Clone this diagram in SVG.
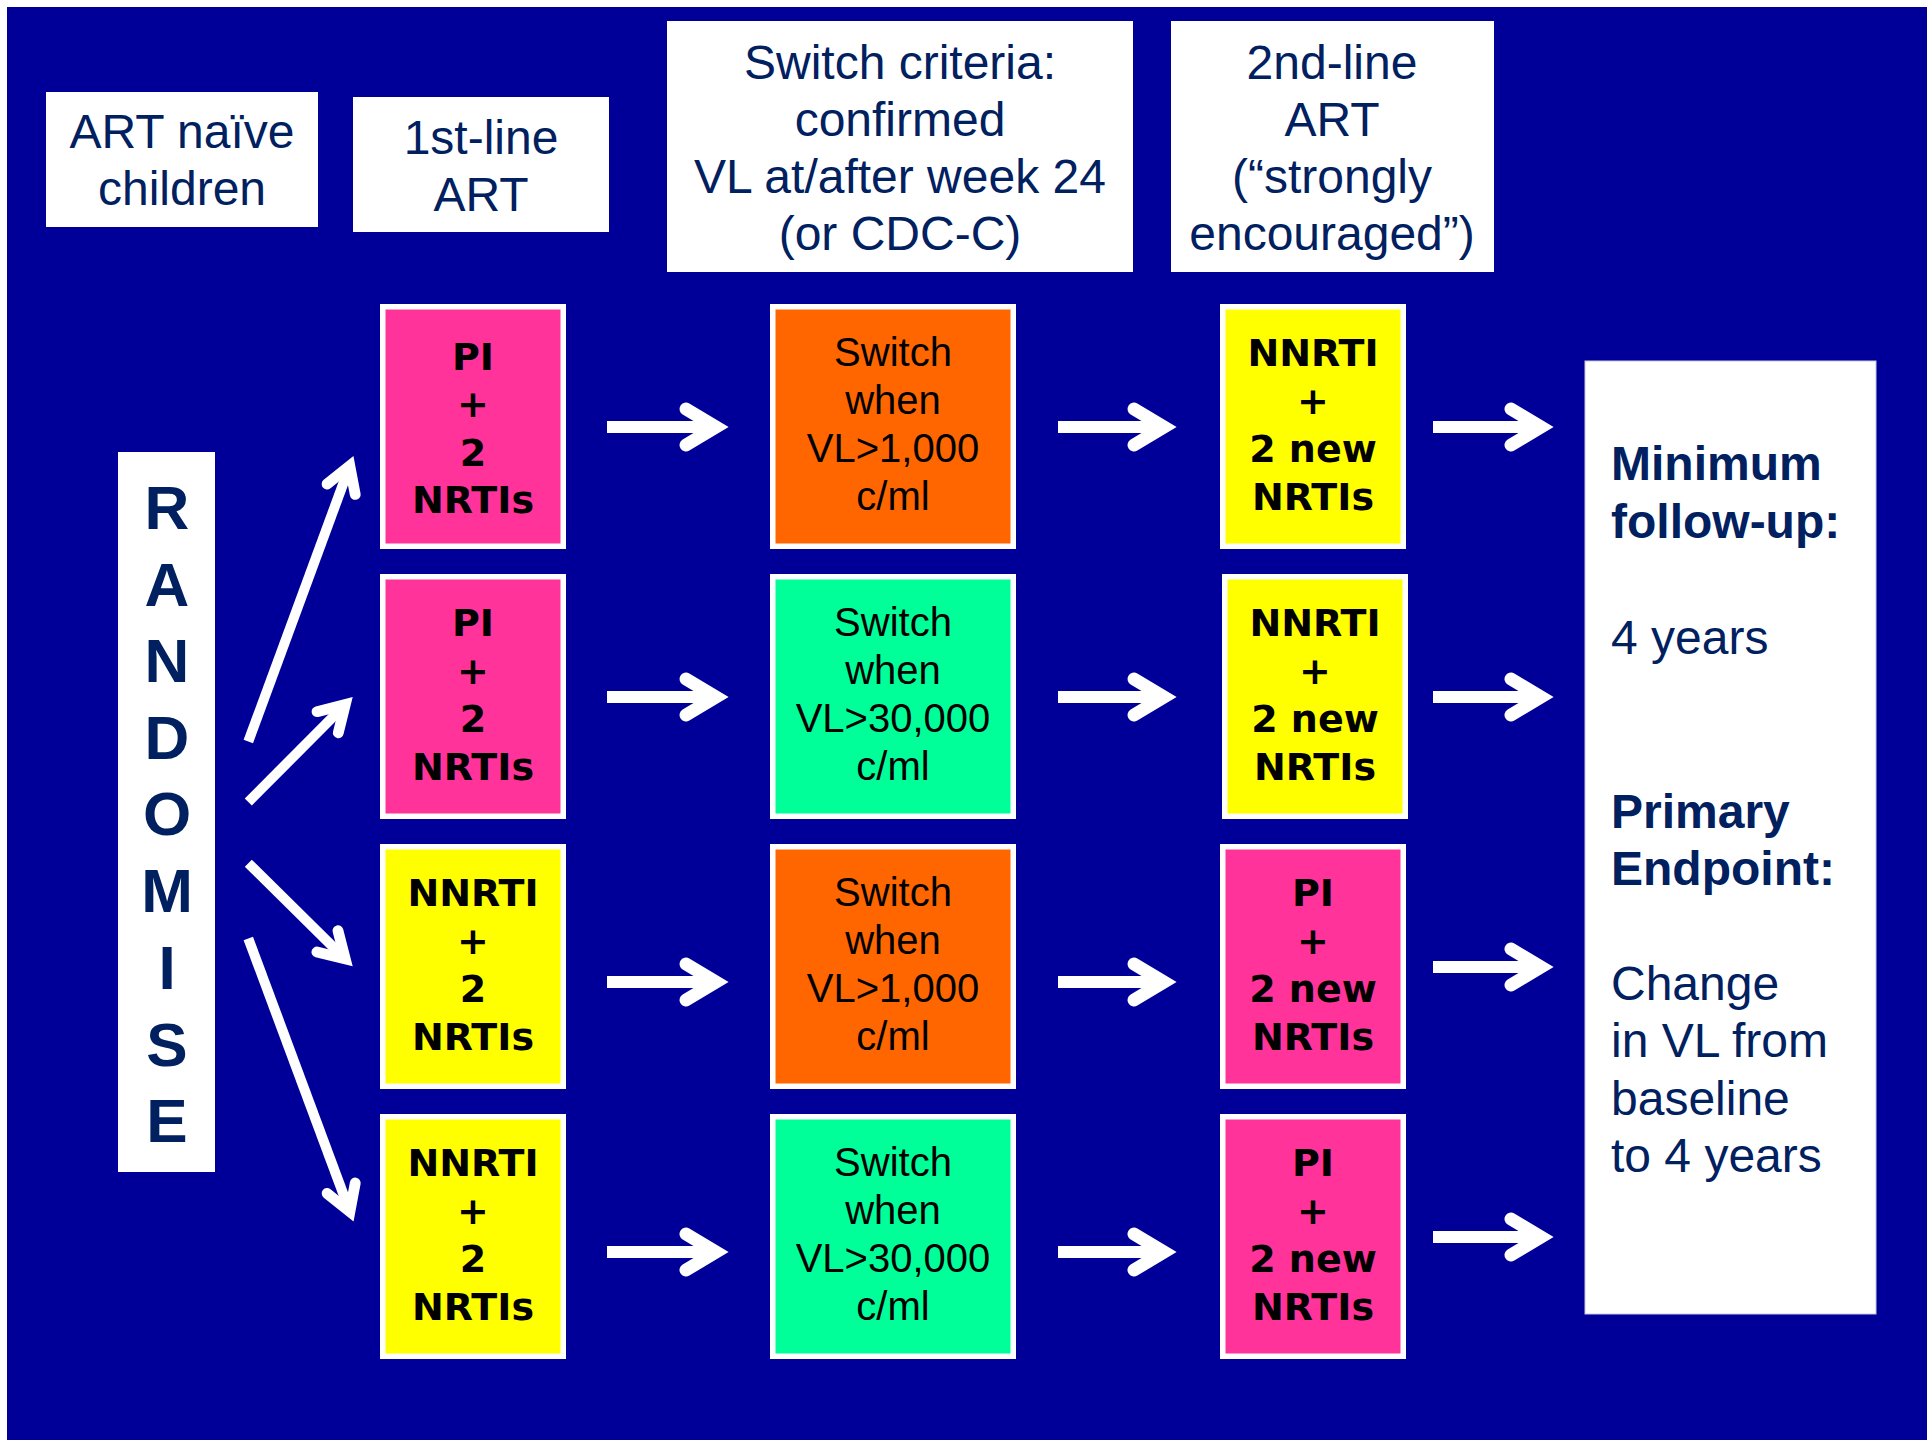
<svg xmlns="http://www.w3.org/2000/svg" width="1927" height="1440" viewBox="0 0 1927 1440">
<defs>
<style>
.hdr{fill:#fff}
.ht{font-family:"Liberation Sans",Arial,sans-serif;font-size:48px;fill:#002060;text-anchor:middle}
.ft{font-family:"Liberation Sans",Arial,sans-serif;font-size:48px;fill:#002060}
.b{font-weight:bold}
.rnd{font-family:"Liberation Sans",Arial,sans-serif;font-size:62px;font-weight:bold;fill:#002060;text-anchor:middle}
.box{stroke:#fff;stroke-width:5.5}
.pink{fill:#ff3399}
.yel{fill:#ffff00}
.org{fill:#ff6600}
.grn{fill:#00ff99}
.bt{font-family:"DejaVu Sans",Verdana,sans-serif;font-size:38px;font-weight:bold;fill:#000;text-anchor:middle}
.st{font-family:"Liberation Sans",Arial,sans-serif;font-size:40px;fill:#000;text-anchor:middle}
.arr{stroke:#fff;fill:none;marker-end:url(#ah)}
</style>
<marker id="ah" markerUnits="strokeWidth" markerWidth="6" markerHeight="6" viewBox="0 0 72 72" refX="40" refY="36" orient="auto" overflow="visible">
<polyline points="10,18 40,36 10,54" fill="none" stroke="#fff" stroke-width="13" stroke-linecap="round" stroke-linejoin="miter"/>
</marker>
</defs>
<rect x="0" y="0" width="1927" height="1440" fill="#fff"/>
<rect x="7" y="7" width="1920" height="1433" fill="#000099"/>

<g id="hdr-art-naive">
<rect class="hdr" x="46" y="92" width="272" height="135"/>
<text class="ht" x="182" y="148">ART naïve</text>
<text class="ht" x="182" y="205">children</text>
</g>
<g id="hdr-1st-line">
<rect class="hdr" x="353" y="97" width="256" height="135"/>
<text class="ht" x="481" y="154">1st-line</text>
<text class="ht" x="481" y="211">ART</text>
</g>
<g id="hdr-switch">
<rect class="hdr" x="667" y="21" width="466" height="251"/>
<text class="ht" x="900" y="79">Switch criteria:</text>
<text class="ht" x="900" y="136">confirmed</text>
<text class="ht" x="900" y="193">VL at/after week 24</text>
<text class="ht" x="900" y="250">(or CDC-C)</text>
</g>
<g id="hdr-2nd-line">
<rect class="hdr" x="1171" y="21" width="323" height="251"/>
<text class="ht" x="1332" y="79">2nd-line</text>
<text class="ht" x="1332" y="136">ART</text>
<text class="ht" x="1332" y="193">(“strongly</text>
<text class="ht" x="1332" y="250">encouraged”)</text>
</g>

<g id="randomise">
<rect class="hdr" x="118" y="452" width="97" height="720"/>
<text class="rnd" x="167" y="529">R</text>
<text class="rnd" x="167" y="606">A</text>
<text class="rnd" x="167" y="682">N</text>
<text class="rnd" x="167" y="759">D</text>
<text class="rnd" x="167" y="835">O</text>
<text class="rnd" x="167" y="912">M</text>
<text class="rnd" x="167" y="989">I</text>
<text class="rnd" x="167" y="1066">S</text>
<text class="rnd" x="167" y="1142">E</text>
</g>

<g id="first-1">
<rect class="box pink" x="382.75" y="306.75" width="180.5" height="239.5"/>
<text class="bt" x="473" y="370">PI</text>
<text class="bt" x="473" y="417">+</text>
<text class="bt" x="473" y="466">2</text>
<text class="bt" x="473" y="513">NRTIs</text>
</g>
<g id="first-2">
<rect class="box pink" x="382.75" y="576.75" width="180.5" height="239.5"/>
<text class="bt" x="473" y="636">PI</text>
<text class="bt" x="473" y="684">+</text>
<text class="bt" x="473" y="732">2</text>
<text class="bt" x="473" y="780">NRTIs</text>
</g>
<g id="first-3">
<rect class="box yel" x="382.75" y="846.75" width="180.5" height="239.5"/>
<text class="bt" x="473" y="906">NNRTI</text>
<text class="bt" x="473" y="954">+</text>
<text class="bt" x="473" y="1002">2</text>
<text class="bt" x="473" y="1050">NRTIs</text>
</g>
<g id="first-4">
<rect class="box yel" x="382.75" y="1116.75" width="180.5" height="239.5"/>
<text class="bt" x="473" y="1176">NNRTI</text>
<text class="bt" x="473" y="1224">+</text>
<text class="bt" x="473" y="1272">2</text>
<text class="bt" x="473" y="1320">NRTIs</text>
</g>

<g id="switch-1">
<rect class="box org" x="772.75" y="306.75" width="240.5" height="239.5"/>
<text class="st" x="893" y="366">Switch</text>
<text class="st" x="893" y="414">when</text>
<text class="st" x="893" y="462">VL&gt;1,000</text>
<text class="st" x="893" y="510">c/ml</text>
</g>
<g id="switch-2">
<rect class="box grn" x="772.75" y="576.75" width="240.5" height="239.5"/>
<text class="st" x="893" y="636">Switch</text>
<text class="st" x="893" y="684">when</text>
<text class="st" x="893" y="732">VL&gt;30,000</text>
<text class="st" x="893" y="780">c/ml</text>
</g>
<g id="switch-3">
<rect class="box org" x="772.75" y="846.75" width="240.5" height="239.5"/>
<text class="st" x="893" y="906">Switch</text>
<text class="st" x="893" y="954">when</text>
<text class="st" x="893" y="1002">VL&gt;1,000</text>
<text class="st" x="893" y="1050">c/ml</text>
</g>
<g id="switch-4">
<rect class="box grn" x="772.75" y="1116.75" width="240.5" height="239.5"/>
<text class="st" x="893" y="1176">Switch</text>
<text class="st" x="893" y="1224">when</text>
<text class="st" x="893" y="1272">VL&gt;30,000</text>
<text class="st" x="893" y="1320">c/ml</text>
</g>

<g id="second-1">
<rect class="box yel" x="1222.75" y="306.75" width="180.5" height="239.5"/>
<text class="bt" x="1313" y="366">NNRTI</text>
<text class="bt" x="1313" y="414">+</text>
<text class="bt" x="1313" y="462">2 new</text>
<text class="bt" x="1313" y="510">NRTIs</text>
</g>
<g id="second-2">
<rect class="box yel" x="1224.75" y="576.75" width="180.5" height="239.5"/>
<text class="bt" x="1315" y="636">NNRTI</text>
<text class="bt" x="1315" y="684">+</text>
<text class="bt" x="1315" y="732">2 new</text>
<text class="bt" x="1315" y="780">NRTIs</text>
</g>
<g id="second-3">
<rect class="box pink" x="1222.75" y="846.75" width="180.5" height="239.5"/>
<text class="bt" x="1313" y="906">PI</text>
<text class="bt" x="1313" y="954">+</text>
<text class="bt" x="1313" y="1002">2 new</text>
<text class="bt" x="1313" y="1050">NRTIs</text>
</g>
<g id="second-4">
<rect class="box pink" x="1222.75" y="1116.75" width="180.5" height="239.5"/>
<text class="bt" x="1313" y="1176">PI</text>
<text class="bt" x="1313" y="1224">+</text>
<text class="bt" x="1313" y="1272">2 new</text>
<text class="bt" x="1313" y="1320">NRTIs</text>
</g>

<g id="outcome">
<rect class="hdr" x="1585" y="361" width="291" height="953" stroke="#c8c8e0" stroke-width="1"/>
<text class="ft b" x="1611" y="480">Minimum</text>
<text class="ft b" x="1611" y="538">follow-up:</text>
<text class="ft" x="1611" y="654">4 years</text>
<text class="ft b" x="1611" y="828">Primary</text>
<text class="ft b" x="1611" y="885">Endpoint:</text>
<text class="ft" x="1611" y="1000">Change</text>
<text class="ft" x="1611" y="1057">in VL from</text>
<text class="ft" x="1611" y="1115">baseline</text>
<text class="ft" x="1611" y="1172">to 4 years</text>
</g>

<g id="connectors">
<line class="arr" stroke-width="10" x1="248.3" y1="741.6" x2="349.8" y2="465.8"/>
<line class="arr" stroke-width="10" x1="248.3" y1="802" x2="345.3" y2="704.5"/>
<line class="arr" stroke-width="10" x1="248.3" y1="863.2" x2="345.2" y2="958.9"/>
<line class="arr" stroke-width="10" x1="248.3" y1="938.4" x2="349.9" y2="1211.7"/>

<line class="arr" stroke-width="12" x1="607" y1="427" x2="716" y2="427"/>
<line class="arr" stroke-width="12" x1="607" y1="697" x2="716" y2="697"/>
<line class="arr" stroke-width="12" x1="607" y1="982" x2="716" y2="982"/>
<line class="arr" stroke-width="12" x1="607" y1="1252" x2="716" y2="1252"/>

<line class="arr" stroke-width="12" x1="1058" y1="427" x2="1164" y2="427"/>
<line class="arr" stroke-width="12" x1="1058" y1="697" x2="1164" y2="697"/>
<line class="arr" stroke-width="12" x1="1058" y1="982" x2="1164" y2="982"/>
<line class="arr" stroke-width="12" x1="1058" y1="1252" x2="1164" y2="1252"/>

<line class="arr" stroke-width="12" x1="1433" y1="427" x2="1541" y2="427"/>
<line class="arr" stroke-width="12" x1="1433" y1="697" x2="1541" y2="697"/>
<line class="arr" stroke-width="12" x1="1433" y1="967" x2="1541" y2="967"/>
<line class="arr" stroke-width="12" x1="1433" y1="1237" x2="1541" y2="1237"/>
</g>
</svg>
